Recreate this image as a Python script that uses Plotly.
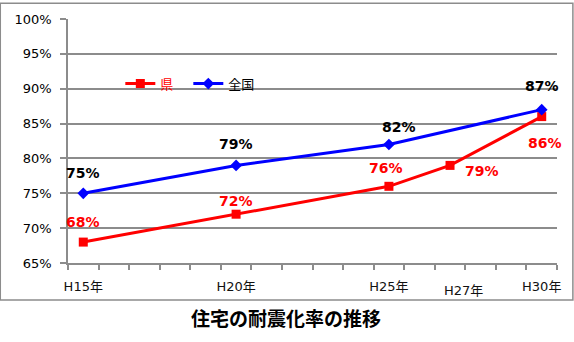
import plotly.graph_objects as go

# 年度（平成）と耐震化率（%）
years_pref = [15, 20, 25, 27, 30]
rate_pref = [68, 72, 76, 79, 86]
years_nat = [15, 20, 25, 30]
rate_nat = [75, 79, 82, 87]

tick_years = [15, 20, 25, 30]
tick_text = ["H15年", "H20年", "H25年", "H30年"]
extra_year = 27
extra_text = "H27年"

y_ticks = [65, 70, 75, 80, 85, 90, 95, 100]

RED = "#FF0000"
BLUE = "#0000FF"
GRID = "#8C8C8C"
FONT = "DejaVu Sans, Noto Sans CJK JP, sans-serif"

fig = go.Figure()
fig.add_trace(go.Scatter(
    x=years_pref, y=rate_pref, mode="lines+markers",
    name="<span style='color:#FF0000'>県</span>",
    line=dict(color=RED, width=3),
    marker=dict(symbol="square", size=9, color=RED),
))
fig.add_trace(go.Scatter(
    x=years_nat, y=rate_nat, mode="lines+markers",
    name="全国",
    line=dict(color=BLUE, width=3),
    marker=dict(symbol="diamond", size=9, color=BLUE),
))

# value labels (offsets in px)
pref_off = [(0, 20), (0, 13), (-3, 18), (32, -6), (3, -26)]
nat_off = [(0, 20), (0, 21), (10, 17), (0, 24)]
for xv, yv, (dx, dy) in zip(years_pref, rate_pref, pref_off):
    fig.add_annotation(x=xv, y=yv, text=f"{yv}%", showarrow=False,
                       xshift=dx, yshift=dy,
                       font=dict(family=FONT, size=14, color=RED, weight="bold"))
for xv, yv, (dx, dy) in zip(years_nat, rate_nat, nat_off):
    fig.add_annotation(x=xv, y=yv, text=f"{yv}%", showarrow=False,
                       xshift=dx, yshift=dy,
                       font=dict(family=FONT, size=14, color="black", weight="bold"))

# H27 label sits a little lower and to the right
fig.add_annotation(x=extra_year, y=0, xref="x", yref="paper", yanchor="top",
                   text=extra_text, showarrow=False, xshift=13, yshift=-18,
                   font=dict(family=FONT, size=13, color="#111"))

# chart title below the frame
fig.add_annotation(x=0.446, y=-0.222, xref="paper", yref="paper",
                   xanchor="center", yanchor="middle",
                   text="<b>住宅の耐震化率の推移</b>", showarrow=False,
                   font=dict(family="Noto Sans CJK JP", size=19, color="black"))

# outer frame
fig.add_shape(type="rect", xref="paper", yref="paper",
              x0=-0.1385, x1=1.0325, y0=-0.152, y1=1.065,
              line=dict(color="#8C8C8C", width=1.5), layer="below")

fig.update_layout(
    width=574, height=342,
    margin=dict(l=68, r=17, t=17, b=79),
    plot_bgcolor="white", paper_bgcolor="white",
    font=dict(family=FONT, size=13, color="black"),
    showlegend=True,
    legend=dict(orientation="h", x=0.107, y=0.735, xanchor="left", yanchor="middle",
                bgcolor="rgba(0,0,0,0)", font=dict(size=13), entrywidth=23,
                itemwidth=30),
)
fig.update_xaxes(
    range=[14.5, 30.5], tickmode="array", tickvals=tick_years, ticktext=tick_text,
    ticks="", showgrid=False, zeroline=False,
    showline=True, linecolor=GRID, linewidth=1.5,
    tickfont=dict(family=FONT, size=13, color="#111"), ticklabelstandoff=11,
    minor=dict(tickmode="linear", tick0=14.5, dtick=1, ticks="outside",
               ticklen=5, tickcolor=GRID, tickwidth=1.5, showgrid=False),
)
fig.update_yaxes(
    range=[65, 100], tickmode="array", tickvals=y_ticks,
    ticktext=[f"{v}%" for v in y_ticks],
    showgrid=True, gridcolor=GRID, gridwidth=1.5, zeroline=False,
    showline=True, linecolor=GRID, linewidth=1.5,
    ticks="outside", ticklen=6, tickcolor=GRID, tickwidth=1.5,
    tickfont=dict(family=FONT, size=13, color="black"), ticklabelstandoff=6,
)

fig.write_html("out.html")
